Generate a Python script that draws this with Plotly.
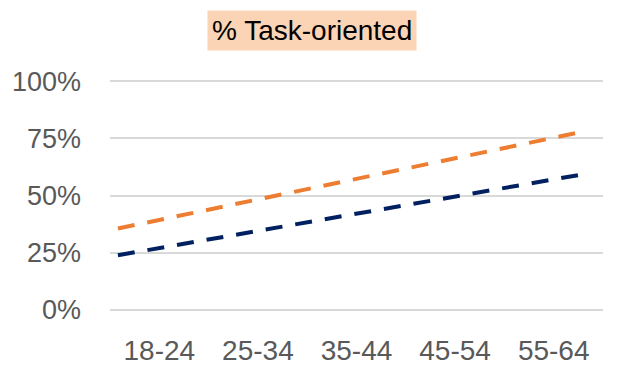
import numpy as np
import plotly.graph_objects as go

categories = ["18-24", "25-34", "35-44", "45-54", "55-64"]
series_orange = [0.393, 0.483, 0.573, 0.663, 0.753]
series_navy = [0.270, 0.345, 0.420, 0.495, 0.571]
y_ticks = [0, 0.25, 0.5, 0.75, 1.0]
y_ticklabels = ["0%", "25%", "50%", "75%", "100%"]
title_text = "% Task-oriented"

# trendlines (linear fit, extended backward/forward like an Excel trendline)
pos = np.arange(len(categories))
x_ext = np.array([-0.42, len(categories) - 1 + 0.25])

fig = go.Figure()
for vals, color in [(series_orange, "#ED7D31"), (series_navy, "#002060")]:
    k, b = np.polyfit(pos, vals, 1)
    fig.add_trace(go.Scatter(
        x=x_ext, y=k * x_ext + b, mode="lines",
        line=dict(color=color, width=4, dash="17px,13px"),
        showlegend=False, hoverinfo="skip", cliponaxis=False))

# page body has an 8px margin, so margins are offset accordingly
fig.update_layout(
    width=623, height=382,
    margin=dict(l=102, r=28, t=72, b=79, autoexpand=False),
    paper_bgcolor="white", plot_bgcolor="white",
    font=dict(family="Liberation Sans, Arial, sans-serif", size=27, color="#595959"),
    xaxis=dict(range=[-0.5, len(categories) - 0.5], tickvals=list(pos), ticktext=categories,
               showgrid=False, zeroline=False, showline=False, ticks="",
               ticklabelstandoff=20,
               tickfont=dict(size=28, color="#595959")),
    yaxis=dict(range=[-0.006, 1.006], tickvals=y_ticks, ticktext=y_ticklabels,
               showgrid=True, gridcolor="#D9D9D9", gridwidth=2, zeroline=False,
               showline=False, ticks="", ticklabelstandoff=28,
               tickfont=dict(size=27, color="#595959")),
    annotations=[dict(text=title_text, xref="paper", yref="paper",
                      x=(312 - 110) / 493, y=1 + (81 - 32) / 231,
                      xanchor="center", yanchor="middle", showarrow=False,
                      bgcolor="#FBD3B5", borderpad=4,
                      font=dict(size=28, color="#000000",
                                family="Liberation Sans, Arial, sans-serif"))],
)

fig.write_html("out.html")
